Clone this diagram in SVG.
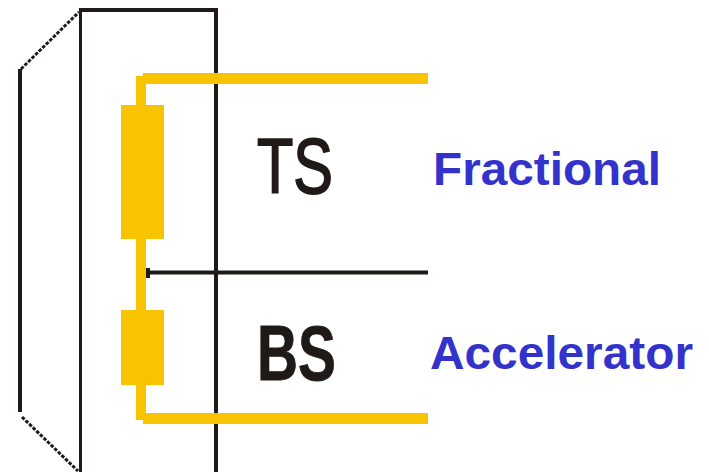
<svg xmlns="http://www.w3.org/2000/svg" width="709" height="472" viewBox="0 0 709 472">
<style>
.frame{fill:none;stroke:#1f1a17;stroke-width:4}
.thin{stroke-width:3}
.dash{fill:none;stroke:#1f1a17;stroke-width:3;stroke-dasharray:3.500 1.500}
.wire{fill:none;stroke:#f8c300;stroke-width:10}
.bar{fill:#f8c300;stroke:none}
.big{font-family:"Liberation Sans",Arial,sans-serif;font-size:77px;fill:#1f1a17}
.lab{font-family:"Liberation Sans",Arial,sans-serif;font-size:47px;font-weight:700;fill:#3333cc}
</style>
<rect width="709" height="472" fill="#fff"/>
<g id="housing">
<path class="frame" d="M20 69V412"/>
<path class="frame thin" d="M80.500 10V472"/>
<path class="frame" d="M79 10H216V472"/>
<path class="dash" d="M21 69L79 12"/>
<path class="dash" d="M22 417L78 471"/>
</g>
<g id="connectors">
<path d="M146 272.500H428" fill="none" stroke="#1f1a17" stroke-width="4"/>
<rect x="146" y="268" width="4" height="10" fill="#1f1a17"/>
<path class="wire" d="M141 76V420"/>
<path class="wire" d="M143 78.500H428" style="stroke-width:11"/>
<path class="wire" d="M143 418.500H428" style="stroke-width:11"/>
</g>
<g id="ts-element"><rect class="bar" x="121" y="105" width="43" height="134"/></g>
<g id="bs-element"><rect class="bar" x="121" y="310" width="43" height="75"/></g>
<g id="ts-label"><text class="big" x="257" y="193" textLength="76" lengthAdjust="spacingAndGlyphs" stroke="#1f1a17" stroke-width="1.800">TS</text></g>
<g id="bs-label"><text class="big" x="257" y="380" textLength="79" lengthAdjust="spacingAndGlyphs" font-weight="700" stroke="#1f1a17" stroke-width="0.800">BS</text></g>
<g id="fractional-label"><text class="lab" x="433" y="185" textLength="228" lengthAdjust="spacingAndGlyphs">Fractional</text></g>
<g id="accelerator-label"><text class="lab" x="430" y="369" textLength="263" lengthAdjust="spacingAndGlyphs">Accelerator</text></g>
</svg>
